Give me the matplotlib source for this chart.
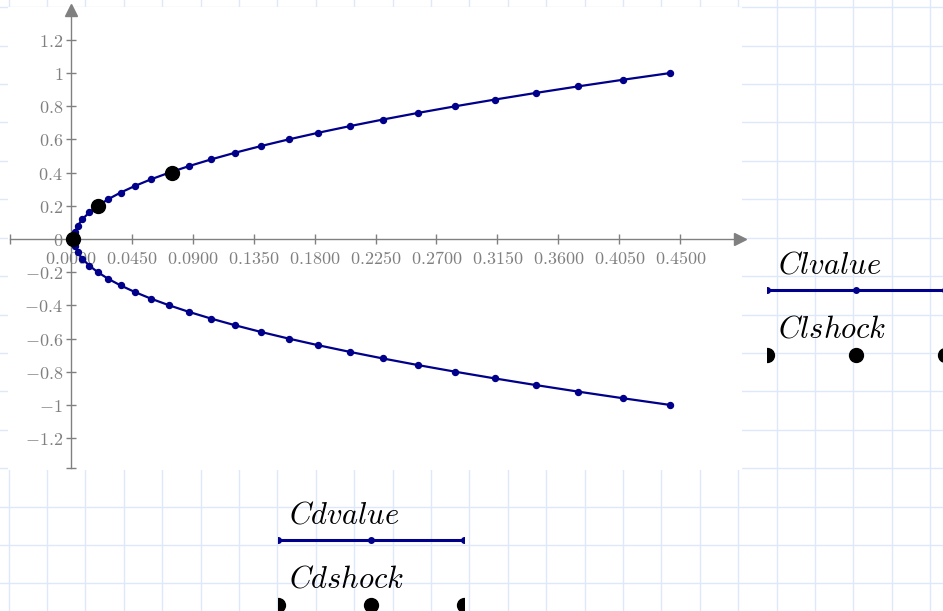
import matplotlib
matplotlib.use('Agg')
import numpy as np
import matplotlib.pyplot as plt
from matplotlib.patches import Rectangle

# ---------------- data ----------------
cl_value = [-1.00, -0.96, -0.92, -0.88, -0.84, -0.80, -0.76, -0.72, -0.68, -0.64,
            -0.60, -0.56, -0.52, -0.48, -0.44, -0.40, -0.36, -0.32, -0.28, -0.24,
            -0.20, -0.16, -0.12, -0.08, -0.04, 0.00, 0.04, 0.08, 0.12, 0.16,
            0.20, 0.24, 0.28, 0.32, 0.36, 0.40, 0.44, 0.48, 0.52, 0.56,
            0.60, 0.64, 0.68, 0.72, 0.76, 0.80, 0.84, 0.88, 0.92, 0.96, 1.00]
cd_value = [0.4424, 0.4079, 0.3748, 0.3431, 0.3129, 0.2840, 0.2565, 0.2305, 0.2059, 0.1826,
            0.1608, 0.1404, 0.1214, 0.1038, 0.0876, 0.0728, 0.0594, 0.0475, 0.0369, 0.0277,
            0.0200, 0.0137, 0.0087, 0.0052, 0.0031, 0.0024, 0.0031, 0.0052, 0.0087, 0.0137,
            0.0200, 0.0277, 0.0369, 0.0475, 0.0594, 0.0728, 0.0876, 0.1038, 0.1214, 0.1404,
            0.1608, 0.1826, 0.2059, 0.2305, 0.2565, 0.2840, 0.3129, 0.3431, 0.3748, 0.4079, 0.4424]
cl_shock = [0.0, 0.2, 0.4]
cd_shock = [0.002, 0.020, 0.075]

x_ticks = [0.0000, 0.0450, 0.0900, 0.1350, 0.1800, 0.2250, 0.2700, 0.3150, 0.3600, 0.4050, 0.4500]
y_ticks = [-1.2, -1.0, -0.8, -0.6, -0.4, -0.2, 0.0, 0.2, 0.4, 0.6, 0.8, 1.0, 1.2]
x_tick_labels = ['0.0000', '0.0450', '0.0900', '0.1350', '0.1800', '0.2250',
                 '0.2700', '0.3150', '0.3600', '0.4050', '0.4500']
y_tick_labels = ['-1.2', '-1', '-0.8', '-0.6', '-0.4', '-0.2', '0',
                 '0.2', '0.4', '0.6', '0.8', '1', '1.2']

legend_y_value = 'Clvalue'
legend_y_shock = 'Clshock'
legend_x_value = 'Cdvalue'
legend_x_shock = 'Cdshock'

# ---------------- style ----------------
W, H = 943, 611
NAVY = '#00008b'
AXIS = '#808080'
GRID = '#dde9fb'
plt.rcParams['mathtext.fontset'] = 'cm'
plt.rcParams['font.family'] = ['DejaVu Serif']

fig = plt.figure(figsize=(W / 100, H / 100), dpi=100)
fig.patch.set_facecolor('white')

# background grid paper
bg = fig.add_axes([0, 0, 1, 1])
bg.set_xlim(0, W)
bg.set_ylim(H, 0)
bg.axis('off')
for gx in np.arange(8.7, W, 38.4):
    bg.axvline(gx, color=GRID, lw=1.0, zorder=1)
for gy in np.arange(7.3, H, 38.4):
    bg.axhline(gy, color=GRID, lw=1.0, zorder=1)
bg.add_patch(Rectangle((8, 7), 734, 463, facecolor='white', edgecolor='none', zorder=2))

# main axes (pixel box)
pl, pr, pt, pb = 9.7, 740.0, 10.0, 468.0
ax = fig.add_axes([pl / W, 1 - pb / H, (pr - pl) / W, (pb - pt) / H])
ax.patch.set_visible(False)
ax.set_xlim(-0.045, 0.494)
ax.set_ylim(-1.38, 1.38)
for s in ['top', 'right']:
    ax.spines[s].set_visible(False)
for s in ['left', 'bottom']:
    ax.spines[s].set_position(('data', 0))
    ax.spines[s].set_color(AXIS)
    ax.spines[s].set_linewidth(1.0)

ax.set_xticks(x_ticks)
ax.set_xticklabels(['$' + t + '$' for t in x_tick_labels])
ax.set_yticks(y_ticks)
ax.set_yticklabels(['$' + t + '$' for t in y_tick_labels])
ax.tick_params(axis='both', direction='inout', length=7, width=1.0, color=AXIS,
               labelcolor=AXIS, labelsize=13)
ax.tick_params(axis='x', pad=4.5)
ax.tick_params(axis='y', pad=2.0)

# axis arrows and end caps
ax.plot([1], [0], marker='>', ms=8, color=AXIS, transform=ax.get_yaxis_transform(),
        clip_on=False, zorder=5)
ax.plot([0], [1], marker='^', ms=8, color=AXIS, transform=ax.get_xaxis_transform(),
        clip_on=False, zorder=5)
ax.plot([0], [0], marker='|', ms=7, mew=1.0, color=AXIS, transform=ax.get_yaxis_transform(),
        clip_on=False, zorder=5)
ax.plot([0], [0], marker='_', ms=7, mew=1.0, color=AXIS, transform=ax.get_xaxis_transform(),
        clip_on=False, zorder=5)

# data
ax.plot(cd_value, cl_value, color=NAVY, lw=1.6, marker='o', ms=4.3, zorder=6, clip_on=False)
ax.plot(cd_shock, cl_shock, 'o', color='black', ms=10, zorder=7, clip_on=False)

# legends (Mathcad style axis expressions)
def text_at(px, py, s):
    fig.text(px / W, 1 - py / H, '$' + s + '$', fontsize=22, ha='left', va='baseline',
             color='black')

def sample(x0, x1, yc, kind):
    a = fig.add_axes([x0 / W, 1 - (yc + 10) / H, (x1 - x0) / W, 20 / H])
    a.set_xlim(0, 1)
    a.set_ylim(-1, 1)
    a.axis('off')
    if kind == 'line':
        a.plot([0, 0.5, 1], [0, 0, 0], color=NAVY, lw=2.2, marker='o', ms=4)
    else:
        a.plot([0, 0.5, 1], [0, 0, 0], 'o', color='black', ms=10)

text_at(778, 273, legend_y_value)
sample(767, 945, 289.5, 'line')
text_at(778, 338, legend_y_shock)
sample(767, 945, 354.5, 'dots')

text_at(289, 523, legend_x_value)
sample(277.7, 463.5, 539.5, 'line')
text_at(289, 588, legend_x_shock)
sample(277.7, 463.5, 604.5, 'dots')

fig.savefig('out.png', dpi=100)
